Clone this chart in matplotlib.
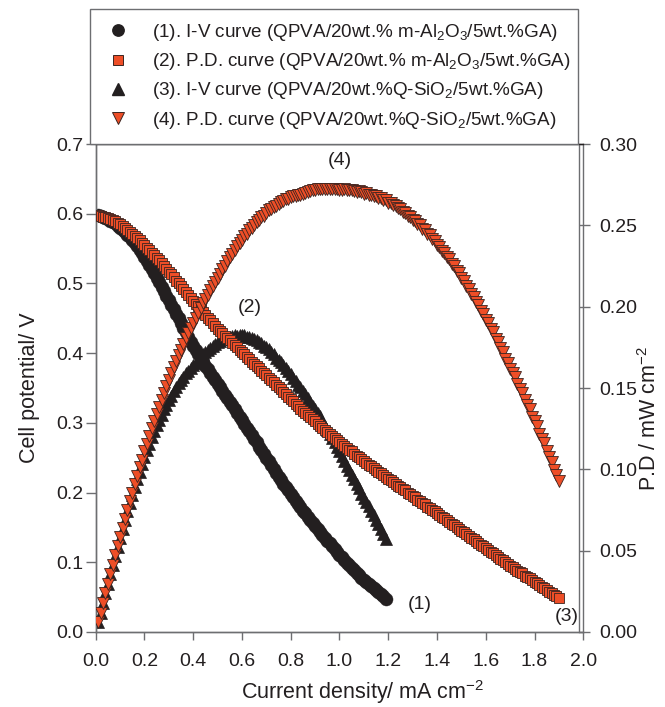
import numpy as np
import matplotlib
matplotlib.use('Agg')
import matplotlib.pyplot as plt
from matplotlib.lines import Line2D

plt.rcParams['font.family'] = ['Liberation Sans', 'DejaVu Sans']
plt.rcParams['mathtext.fontset'] = 'custom'
plt.rcParams['mathtext.rm'] = 'Liberation Sans'
plt.rcParams['mathtext.it'] = 'Liberation Sans:italic'
plt.rcParams['mathtext.bf'] = 'Liberation Sans:bold'

# both cells were swept in 0.01 mA cm-2 current steps starting at 0.01
step = 0.01

# cell potential / V, QPVA/20wt.% m-Al2O3/5wt.%GA  (0.01 ... 1.19 mA cm-2)
v_al = [0.598, 0.597, 0.596, 0.594, 0.592, 0.590, 0.588, 0.586, 0.583, 0.580,
        0.577, 0.574, 0.570, 0.566, 0.562, 0.558, 0.553, 0.548, 0.543, 0.538,
        0.532, 0.526, 0.521, 0.515, 0.508, 0.502, 0.495, 0.489, 0.482, 0.476,
        0.469, 0.463, 0.456, 0.450, 0.443, 0.436, 0.430, 0.423, 0.416, 0.410,
        0.404, 0.399, 0.393, 0.388, 0.382, 0.377, 0.372, 0.366, 0.361, 0.356,
        0.351, 0.346, 0.340, 0.335, 0.330, 0.325, 0.320, 0.314, 0.309, 0.304,
        0.299, 0.293, 0.288, 0.282, 0.277, 0.272, 0.266, 0.261, 0.255, 0.250,
        0.245, 0.239, 0.234, 0.228, 0.223, 0.218, 0.213, 0.208, 0.203, 0.198,
        0.193, 0.188, 0.183, 0.179, 0.174, 0.170, 0.165, 0.161, 0.156, 0.152,
        0.148, 0.144, 0.139, 0.135, 0.131, 0.127, 0.123, 0.119, 0.115, 0.111,
        0.107, 0.103, 0.099, 0.096, 0.092, 0.089, 0.085, 0.082, 0.078, 0.075,
        0.072, 0.069, 0.066, 0.063, 0.060, 0.057, 0.054, 0.051, 0.048]

# cell potential / V, QPVA/20wt.%Q-SiO2/5wt.%GA  (0.01 ... 1.90 mA cm-2)
v_si = [0.598, 0.597, 0.596, 0.595, 0.594, 0.592, 0.591, 0.589, 0.587, 0.585,
        0.583, 0.580, 0.577, 0.574, 0.571, 0.568, 0.565, 0.562, 0.558, 0.555,
        0.551, 0.548, 0.544, 0.541, 0.537, 0.533, 0.529, 0.525, 0.521, 0.517,
        0.513, 0.509, 0.504, 0.500, 0.496, 0.492, 0.488, 0.483, 0.479, 0.475,
        0.471, 0.467, 0.463, 0.459, 0.455, 0.451, 0.447, 0.443, 0.439, 0.435,
        0.432, 0.429, 0.425, 0.422, 0.419, 0.415, 0.412, 0.409, 0.405, 0.402,
        0.399, 0.395, 0.392, 0.388, 0.385, 0.382, 0.378, 0.375, 0.371, 0.368,
        0.365, 0.361, 0.358, 0.354, 0.351, 0.348, 0.344, 0.341, 0.337, 0.334,
        0.331, 0.327, 0.324, 0.320, 0.317, 0.314, 0.311, 0.308, 0.305, 0.302,
        0.299, 0.296, 0.293, 0.290, 0.287, 0.284, 0.281, 0.278, 0.275, 0.272,
        0.269, 0.267, 0.264, 0.261, 0.259, 0.256, 0.253, 0.251, 0.248, 0.245,
        0.243, 0.240, 0.238, 0.235, 0.233, 0.230, 0.228, 0.225, 0.223, 0.220,
        0.218, 0.215, 0.213, 0.210, 0.208, 0.205, 0.203, 0.200, 0.198, 0.195,
        0.193, 0.190, 0.188, 0.185, 0.183, 0.180, 0.178, 0.175, 0.173, 0.170,
        0.168, 0.165, 0.163, 0.160, 0.158, 0.155, 0.153, 0.150, 0.148, 0.145,
        0.143, 0.140, 0.138, 0.135, 0.133, 0.130, 0.128, 0.125, 0.123, 0.120,
        0.118, 0.115, 0.113, 0.110, 0.108, 0.105, 0.103, 0.100, 0.098, 0.095,
        0.093, 0.091, 0.088, 0.086, 0.084, 0.081, 0.079, 0.077, 0.074, 0.072,
        0.070, 0.067, 0.065, 0.063, 0.060, 0.058, 0.056, 0.053, 0.051, 0.049]

labels = [r'(1). I-V curve (QPVA/20wt.% m-Al$_2$O$_3$/5wt.%GA)',
          r'(2). P.D. curve (QPVA/20wt.% m-Al$_2$O$_3$/5wt.%GA)',
          r'(3). I-V curve (QPVA/20wt.%Q-SiO$_2$/5wt.%GA)',
          r'(4). P.D. curve (QPVA/20wt.%Q-SiO$_2$/5wt.%GA)']

v_al, v_si = np.array(v_al), np.array(v_si)
i_al = np.round(step * np.arange(1, len(v_al) + 1), 2)
i_si = np.round(step * np.arange(1, len(v_si) + 1), 2)
# power density / mW cm-2
p_al = i_al * v_al
p_si = i_si * v_si

blk = '#231f20'
red = '#ee4e27'
edge = '#3b2420'
gray = '#6d6e71'

fig = plt.figure(figsize=(6.65, 7.07), dpi=100)
rect = [0.1439, 0.1061, 0.7332, 0.6902]
ax = fig.add_axes(rect)
ax2 = ax.twinx()
# extra layers so the red curves sit on top of both black ones
ax3 = fig.add_axes(rect, sharex=ax, sharey=ax, frameon=False)
ax4 = fig.add_axes(rect, sharex=ax, sharey=ax2, frameon=False)
for a in (ax3, ax4):
    a.axis('off')

ax.plot(i_al, v_al, 'o', ms=9.4, color=blk, mec=blk, mew=0.3)
ax2.plot(i_al, p_al, '^', ms=8.8, color=blk, mec=blk, mew=0.5)
ax3.plot(i_si, v_si, 's', ms=7.4, color=red, mec=edge, mew=0.6)
ax4.plot(i_si, p_si, 'v', ms=8.6, color=red, mec=edge, mew=0.6)

ax.set_xlim(0, 2.0)
ax.set_ylim(0, 0.7)
ax2.set_ylim(0, 0.30)
ax.set_xticks(np.arange(0, 2.01, 0.2))
ax.set_xticklabels(['%.1f' % t for t in np.arange(0, 2.01, 0.2)])
ax.set_yticks(np.arange(0, 0.71, 0.1))
ax.set_yticklabels(['%.1f' % t for t in np.arange(0, 0.71, 0.1)])
ax2.set_yticks(np.arange(0, 0.301, 0.05))
ax2.set_yticklabels(['%.2f' % t for t in np.arange(0, 0.301, 0.05)])

for a in (ax, ax2):
    a.tick_params(direction='out', width=1, color=gray,
                  labelsize=14, labelcolor=blk)
    for s in a.spines.values():
        s.set_color(gray)
        s.set_linewidth(1)
    a.spines['top'].set_color(blk)
    a.spines['top'].set_linewidth(0.9)
ax.tick_params(axis='x', length=6, pad=9)
ax.tick_params(axis='y', length=7, pad=2)
ax2.tick_params(axis='y', length=8, pad=6)
ax2.spines['right'].set_position(('axes', 0.992))

ax.set_xlabel(r'Current density/ mA cm$^{-2}$', fontsize=15.5, color=blk)
ax.xaxis.set_label_coords(0.548, -0.123)
ax.xaxis.label.set_va('center')
ax.set_ylabel('Cell potential/ V', fontsize=15.5, color=blk)
ax.yaxis.set_label_coords(-0.135, 0.5)
ax.yaxis.label.set_va('center')
ax2.set_ylabel(r'P.D / mW cm$^{-2}$', fontsize=15.5, color=blk)
ax2.yaxis.set_label_coords(1.135, 0.4385)
ax2.yaxis.label.set_va('center')

for txt, x, y in [('(4)', 1.0, 0.677), ('(2)', 0.633, 0.465),
                  ('(1)', 1.33, 0.039), ('(3)', 1.934, 0.0215)]:
    ax4.text(x, y * 0.3 / 0.7, txt, fontsize=14, color=blk,
             ha='center', va='center')

handles = [Line2D([], [], ls='none', marker='o', ms=8.2, color=blk),
           Line2D([], [], ls='none', marker='s', ms=6.7, color=red, mec=edge, mew=0.7),
           Line2D([], [], ls='none', marker='^', ms=8.9, color=blk),
           Line2D([], [], ls='none', marker='v', ms=8.2, color=red, mec=edge, mew=0.7)]
leg = fig.legend(handles, labels, loc='lower left',
                 bbox_to_anchor=(0.1353, 0.7963, 0.7338, 0.1896), mode='expand',
                 fontsize=13.6, frameon=True, fancybox=False, borderaxespad=0,
                 borderpad=0.7, labelspacing=0.44, handlelength=1.55,
                 handletextpad=1.03, framealpha=1)
leg.get_frame().set_edgecolor(gray)
leg.get_frame().set_linewidth(1)
for t in leg.get_texts():
    t.set_color(blk)

fig.savefig('out.png', dpi=100)
